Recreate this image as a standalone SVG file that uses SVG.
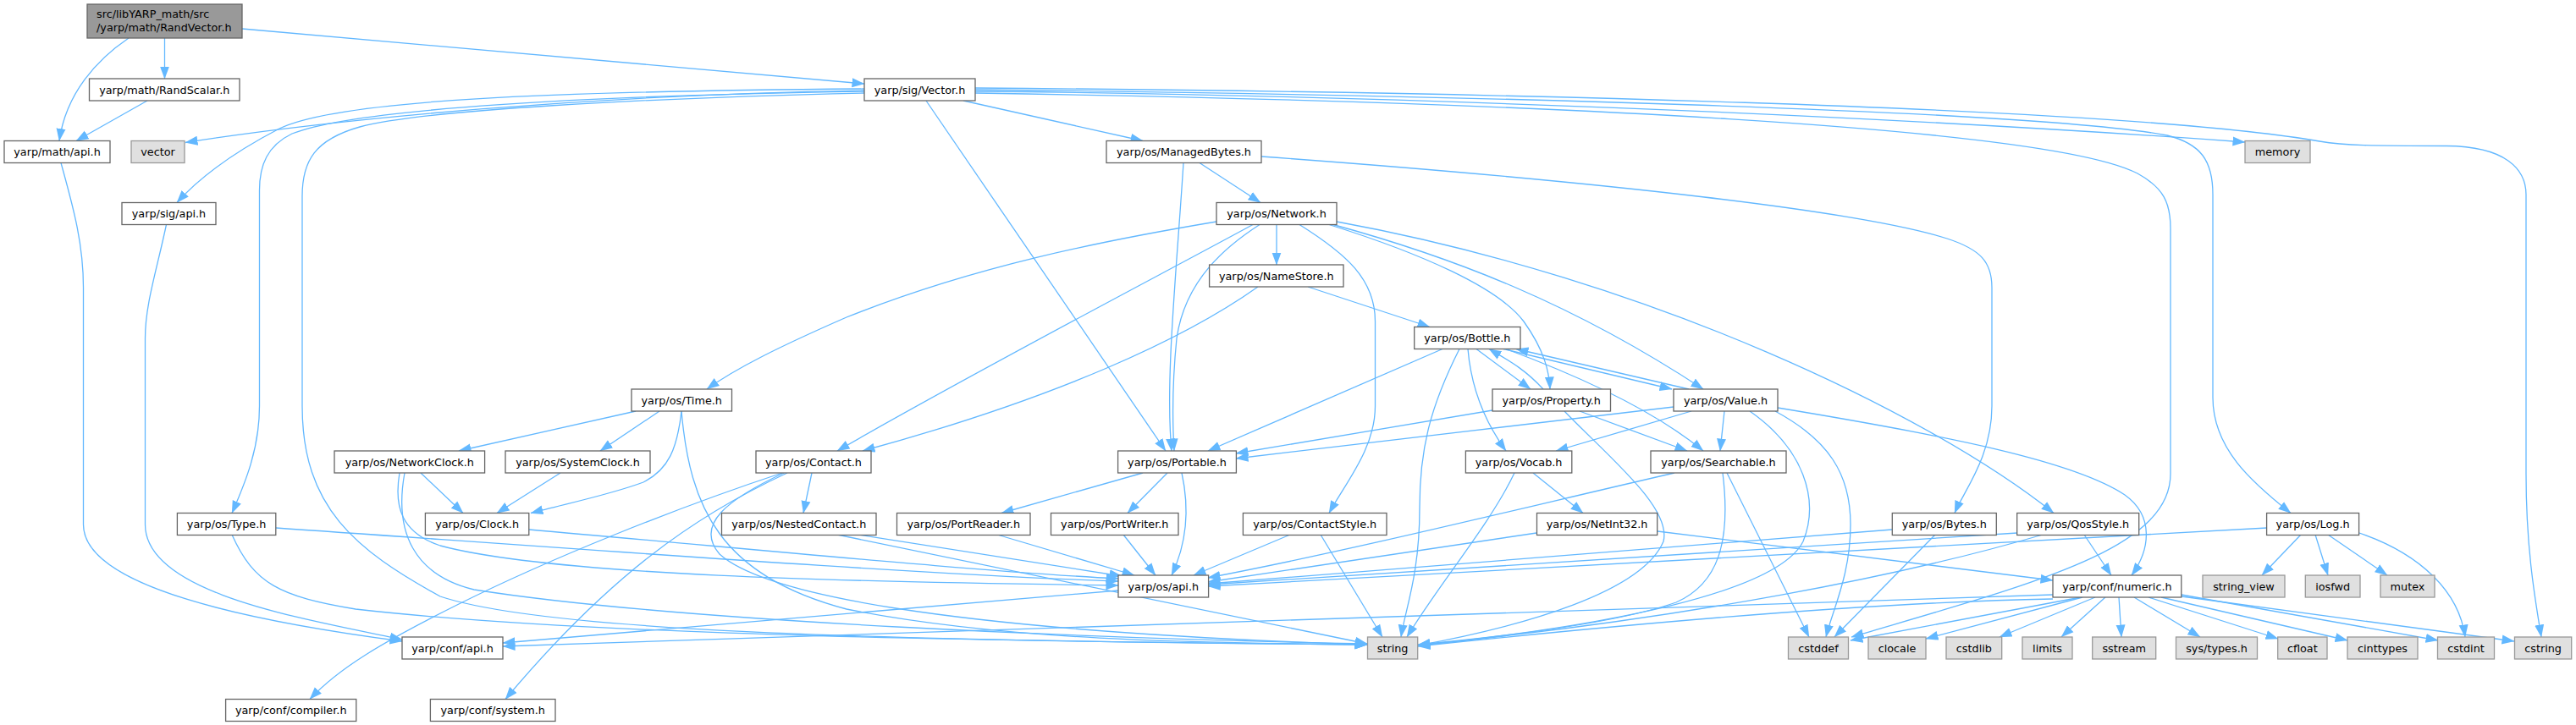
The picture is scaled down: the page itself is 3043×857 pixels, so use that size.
<svg xmlns="http://www.w3.org/2000/svg" width="3043" height="857" viewBox="0 0 3043 857">
<defs>
<marker id="a" markerUnits="userSpaceOnUse" markerWidth="15" markerHeight="12" viewBox="0 0 15 12" refX="14.5" refY="6" orient="auto"><path d="M0,0.5 L15,6 L0,11.5 z" fill="#63b8ff"/></marker>
</defs>
<style>
rect{fill:#fff;stroke:#666;stroke-width:1.3}
.g rect{fill:#e0e0e0;stroke:#999}
.r rect{fill:#999;stroke:#666}
text{font-family:"DejaVu Sans",sans-serif;font-size:12.8px;text-anchor:middle;fill:#000}
#edges path{fill:none;stroke:#63b8ff;stroke-width:1.3;marker-end:url(#a)}
</style>
<rect width="3043" height="857" style="fill:#fff;stroke:none"/>
<g id="edges">
<path d="M152,45 C115,70 78,110 70,166.5"/>
<path d="M194.5,45 L194.5,93"/>
<path d="M286,34 L1021,99"/>
<path d="M174,119 L90,166.5"/>
<path d="M72,192.5 C88,250 98.5,290 98.5,340 L98.5,620 C98.5,695 300,735 475,758"/>
<path d="M1021,107 C700,112 400,140 219,168.5"/>
<path d="M1021,105 C650,108 400,118 330,152 C280,178 240,205 209,239.5"/>
<path d="M1021,108 C700,113 420,128 345,158 C316,172 306.5,195 306.5,225 L306.5,480 C306.5,530 290,570 274,606.5"/>
<path d="M1021,110 C760,116 500,130 425,150 C372,165 357,190 357,232 L357,480 C357,600 420,650 520,705 C640,745 1000,757 1615,762"/>
<path d="M1094,119 L1377,533"/>
<path d="M1138,119 L1350,166.5"/>
<path d="M1152,108 C1600,112 2200,135 2652,168"/>
<path d="M1152,104 C1700,108 2500,125 2740,167 C2770,172 2800,172.5 2890,172.5 C2960,173 2984,200 2984,230 L2984,560 C2984,650 2995,710 3002,753"/>
<path d="M1152,106 C1700,112 2400,130 2560,160 C2600,170 2614,190 2614,230 L2614,470 C2614,530 2660,570 2706,606.5"/>
<path d="M1152,110 C1800,120 2420,150 2525,205 C2556,222 2564,240 2564,270 L2564,560 C2564,650 2400,690 2187,753"/>
<path d="M196.5,265.5 C185,320 171.5,360 171.5,400 L171.5,620 C171.5,700 350,730 475,756"/>
<path d="M1417,192.5 L1489,239.5"/>
<path d="M1398,192.5 C1390,320 1376,450 1384,533"/>
<path d="M1490,185 C1900,215 2200,250 2300,282 C2340,295 2353,310 2353,340 L2353,480 C2353,540 2320,580 2309,606.5"/>
<path d="M1437,262 C1300,285 1150,315 1000,375 C920,410 870,435 835,460"/>
<path d="M1480,265.5 C1380,320 1150,440 989,533"/>
<path d="M1488,265.5 C1450,290 1400,330 1390,400 C1385,450 1385,500 1387,533"/>
<path d="M1508,265.5 L1508,313"/>
<path d="M1535,265.5 C1590,300 1624.5,330 1624.5,380 L1624.5,480 C1624.5,530 1590,570 1570,606.5"/>
<path d="M1570,265.5 C1680,300 1770,340 1800,380 C1825,415 1830,440 1831,460"/>
<path d="M1573,265 C1720,305 1860,360 2012,460"/>
<path d="M1579,262 C1950,330 2280,490 2426,606.5"/>
<path d="M1545,339 L1689,386.5"/>
<path d="M1486,339 C1400,400 1250,470 1019,533"/>
<path d="M1704,412.5 L1427,533"/>
<path d="M1724,412.5 C1690,480 1677,530 1677,600 C1677,680 1660,720 1655,753"/>
<path d="M1734,412.5 C1738,460 1755,500 1779,533"/>
<path d="M1744,412.5 L1808,460"/>
<path d="M1776,412.5 L1975,460"/>
<path d="M1779,412.5 C1880,450 1960,490 2012,533"/>
<path d="M1823,460 C1800,435 1780,425 1759,412.5"/>
<path d="M1763,485 L1460,536"/>
<path d="M1866,486 L1993,533"/>
<path d="M1848,486 C1900,540 1975,600 1965,640 C1940,700 1800,740 1675,763"/>
<path d="M1995,460 L1791,412.5"/>
<path d="M1977,481 L1460,542"/>
<path d="M2037,486 L2032,533"/>
<path d="M1998,486 L1838,533"/>
<path d="M2067,486 C2130,530 2150,590 2130,640 C2100,700 1900,740 1675,763"/>
<path d="M2097,486 C2160,520 2186,560 2186,620 C2186,680 2165,720 2157,753"/>
<path d="M2100,482 C2300,515 2450,545 2510,585 C2545,610 2540,650 2518,680"/>
<path d="M751,486 L542,533"/>
<path d="M779,486 L709,533"/>
<path d="M805,486 C800,530 790,555 760,570 C720,585 670,595 627,606.5"/>
<path d="M805,486 C815,600 850,680 1000,720 C1200,760 1450,760 1615,762"/>
<path d="M497,559 L547,606.5"/>
<path d="M472,559 C465,600 475,630 520,645 C650,680 1000,688 1321,692"/>
<path d="M478,559 C465,630 490,680 560,697 C800,735 1300,755 1615,761"/>
<path d="M662,559 L587,606.5"/>
<path d="M625,626 C900,650 1150,675 1321,684"/>
<path d="M326,624 C700,650 1100,680 1321,687"/>
<path d="M274,632 C300,690 330,705 420,720 C700,752 1200,758 1615,762"/>
<path d="M959,559 L949,606.5"/>
<path d="M924,559 C800,600 650,660 540,715 C450,760 400,790 366,826.5"/>
<path d="M930,559 C820,610 720,680 597,826.5"/>
<path d="M926,559 C860,590 820,620 850,655 C900,700 1100,745 1615,762"/>
<path d="M1014,632 L1325,681"/>
<path d="M989,632 L1615,761"/>
<path d="M1350,559 L1183,606.5"/>
<path d="M1379,559 L1332,606.5"/>
<path d="M1396,559 C1405,600 1403,640 1384,680"/>
<path d="M1178,632 L1340,680"/>
<path d="M1327,632 L1365,680"/>
<path d="M1524,632 L1410,680"/>
<path d="M1560,632 L1633,753"/>
<path d="M1811,559 L1870,606.5"/>
<path d="M1789,559 C1760,620 1700,690 1662,753"/>
<path d="M1815,630 L1427,688"/>
<path d="M1958,628 L2425,686"/>
<path d="M1978,559 C1800,600 1600,650 1427,683"/>
<path d="M2035,559 C2045,640 2030,690 1980,712 C1900,740 1750,755 1675,762"/>
<path d="M2040,559 L2137,753"/>
<path d="M2235,626 L1427,690"/>
<path d="M2286,632 L2167,753"/>
<path d="M2383,630 L1427,691"/>
<path d="M2462,632 L2494,680"/>
<path d="M2413,632 C2250,680 2000,730 1675,763"/>
<path d="M2678,624 L1427,693"/>
<path d="M2718,632 L2672,680"/>
<path d="M2735,632 L2750,680"/>
<path d="M2750,632 L2820,680"/>
<path d="M2787,630 C2860,655 2905,700 2912,753"/>
<path d="M2460,706 L2275,755"/>
<path d="M2475,706 L2362,753"/>
<path d="M2487,706 L2435,753"/>
<path d="M2503,706 L2506,753"/>
<path d="M2521,706 L2599,753"/>
<path d="M2538,706 L2691,755"/>
<path d="M2553,706 L2773,757"/>
<path d="M2577,703 L2880,757"/>
<path d="M2577,705 L2970,758"/>
<path d="M2425,703 L594,764"/>
<path d="M2425,708 C2200,712 1900,740 1675,764"/>
<path d="M2458,706 L2186,757"/>
<path d="M1321,698 L594,760"/>
</g>
<g id="root" class="r"><rect x="103" y="5" width="183" height="40"/><text x="114" y="21" style="text-anchor:start">src/libYARP_math/src</text><text x="114" y="37" style="text-anchor:start">/yarp/math/RandVector.h</text></g>
<g id="RandScalar"><rect x="105.5" y="93" width="177.5" height="26"/><text x="194.25" y="110.5">yarp/math/RandScalar.h</text></g>
<g id="math_api"><rect x="5" y="166.5" width="125" height="26"/><text x="67.5" y="184">yarp/math/api.h</text></g>
<g id="vector" class="g"><rect x="155" y="166.5" width="63" height="26"/><text x="186.5" y="184">vector</text></g>
<g id="sig_api"><rect x="144" y="239.5" width="111" height="26"/><text x="199.5" y="257">yarp/sig/api.h</text></g>
<g id="Vector"><rect x="1021" y="93" width="131" height="26"/><text x="1086.5" y="110.5">yarp/sig/Vector.h</text></g>
<g id="ManagedBytes"><rect x="1307" y="166.5" width="183" height="26"/><text x="1398.5" y="184">yarp/os/ManagedBytes.h</text></g>
<g id="memory" class="g"><rect x="2652" y="166.5" width="77" height="26"/><text x="2690.5" y="184">memory</text></g>
<g id="Network"><rect x="1437" y="239.5" width="142" height="26"/><text x="1508" y="257">yarp/os/Network.h</text></g>
<g id="NameStore"><rect x="1428.6" y="313" width="158.4" height="26"/><text x="1507.8" y="330.5">yarp/os/NameStore.h</text></g>
<g id="Bottle"><rect x="1670.7" y="386.5" width="125.3" height="26"/><text x="1733.35" y="404">yarp/os/Bottle.h</text></g>
<g id="Time"><rect x="746" y="460" width="118.5" height="26"/><text x="805.25" y="477.5">yarp/os/Time.h</text></g>
<g id="Property"><rect x="1763" y="460" width="139.5" height="26"/><text x="1832.75" y="477.5">yarp/os/Property.h</text></g>
<g id="Value"><rect x="1977" y="460" width="123" height="26"/><text x="2038.5" y="477.5">yarp/os/Value.h</text></g>
<g id="NetworkClock"><rect x="395" y="533" width="177.6" height="26"/><text x="483.8" y="550.5">yarp/os/NetworkClock.h</text></g>
<g id="SystemClock"><rect x="597" y="533" width="171" height="26"/><text x="682.5" y="550.5">yarp/os/SystemClock.h</text></g>
<g id="Contact"><rect x="893" y="533" width="136" height="26"/><text x="961" y="550.5">yarp/os/Contact.h</text></g>
<g id="Portable"><rect x="1320.6" y="533" width="139.8" height="26"/><text x="1390.5" y="550.5">yarp/os/Portable.h</text></g>
<g id="Vocab"><rect x="1731.4" y="533" width="125.4" height="26"/><text x="1794.1" y="550.5">yarp/os/Vocab.h</text></g>
<g id="Searchable"><rect x="1950" y="533" width="160" height="26"/><text x="2030" y="550.5">yarp/os/Searchable.h</text></g>
<g id="Type"><rect x="209.4" y="606.5" width="116.4" height="26"/><text x="267.6" y="624">yarp/os/Type.h</text></g>
<g id="Clock"><rect x="502.4" y="606.5" width="122.4" height="26"/><text x="563.6" y="624">yarp/os/Clock.h</text></g>
<g id="NestedContact"><rect x="852.5" y="606.5" width="182.5" height="26"/><text x="943.75" y="624">yarp/os/NestedContact.h</text></g>
<g id="PortReader"><rect x="1059.5" y="606.5" width="157.5" height="26"/><text x="1138.25" y="624">yarp/os/PortReader.h</text></g>
<g id="PortWriter"><rect x="1241.5" y="606.5" width="150.5" height="26"/><text x="1316.75" y="624">yarp/os/PortWriter.h</text></g>
<g id="ContactStyle"><rect x="1468.4" y="606.5" width="169.6" height="26"/><text x="1553.2" y="624">yarp/os/ContactStyle.h</text></g>
<g id="NetInt32"><rect x="1815.5" y="606.5" width="142.2" height="26"/><text x="1886.6" y="624">yarp/os/NetInt32.h</text></g>
<g id="Bytes"><rect x="2235.3" y="606.5" width="123" height="26"/><text x="2296.8" y="624">yarp/os/Bytes.h</text></g>
<g id="QosStyle"><rect x="2382.7" y="606.5" width="144" height="26"/><text x="2454.7" y="624">yarp/os/QosStyle.h</text></g>
<g id="Log"><rect x="2677.6" y="606.5" width="109" height="26"/><text x="2732.1" y="624">yarp/os/Log.h</text></g>
<g id="os_api"><rect x="1321" y="680" width="106.6" height="26"/><text x="1374.3" y="697.5">yarp/os/api.h</text></g>
<g id="numeric"><rect x="2425" y="680" width="151.8" height="26"/><text x="2500.9" y="697.5">yarp/conf/numeric.h</text></g>
<g id="string_view" class="g"><rect x="2602" y="680" width="97" height="26"/><text x="2650.5" y="697.5">string_view</text></g>
<g id="iosfwd" class="g"><rect x="2723.3" y="680" width="64.7" height="26"/><text x="2755.65" y="697.5">iosfwd</text></g>
<g id="mutex" class="g"><rect x="2812" y="680" width="64" height="26"/><text x="2844" y="697.5">mutex</text></g>
<g id="conf_api"><rect x="475" y="753" width="119" height="26"/><text x="534.5" y="770.5">yarp/conf/api.h</text></g>
<g id="string" class="g"><rect x="1615.5" y="753" width="59.2" height="26"/><text x="1645.1" y="770.5">string</text></g>
<g id="cstddef" class="g"><rect x="2112.5" y="753" width="71" height="26"/><text x="2148" y="770.5">cstddef</text></g>
<g id="clocale" class="g"><rect x="2207" y="753" width="68" height="26"/><text x="2241" y="770.5">clocale</text></g>
<g id="cstdlib" class="g"><rect x="2299" y="753" width="65.7" height="26"/><text x="2331.85" y="770.5">cstdlib</text></g>
<g id="limits" class="g"><rect x="2389" y="753" width="59" height="26"/><text x="2418.5" y="770.5">limits</text></g>
<g id="sstream" class="g"><rect x="2471.7" y="753" width="75" height="26"/><text x="2509.2" y="770.5">sstream</text></g>
<g id="systypes" class="g"><rect x="2570.5" y="753" width="96" height="26"/><text x="2618.5" y="770.5">sys/types.h</text></g>
<g id="cfloat" class="g"><rect x="2690.7" y="753" width="58.3" height="26"/><text x="2719.85" y="770.5">cfloat</text></g>
<g id="cinttypes" class="g"><rect x="2773" y="753" width="83" height="26"/><text x="2814.5" y="770.5">cinttypes</text></g>
<g id="cstdint" class="g"><rect x="2879.5" y="753" width="67" height="26"/><text x="2913" y="770.5">cstdint</text></g>
<g id="cstring" class="g"><rect x="2970.5" y="753" width="67.2" height="26"/><text x="3004.1" y="770.5">cstring</text></g>
<g id="compiler"><rect x="266.6" y="826.5" width="154.2" height="26"/><text x="343.7" y="844">yarp/conf/compiler.h</text></g>
<g id="system"><rect x="508.4" y="826.5" width="147.6" height="26"/><text x="582.2" y="844">yarp/conf/system.h</text></g>
</svg>
